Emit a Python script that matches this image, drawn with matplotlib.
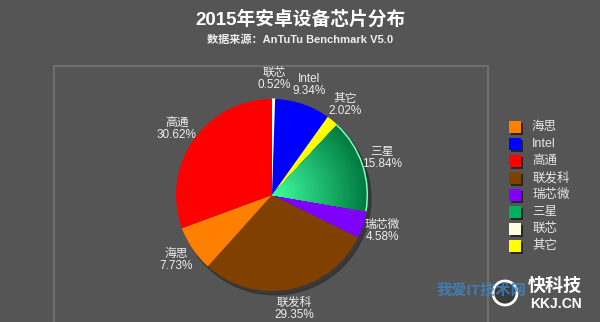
import numpy as np
import matplotlib.pyplot as plt
from matplotlib.patches import Rectangle, Circle, Wedge, Ellipse
from matplotlib.colors import to_rgb

plt.rcParams['font.family'] = ['Liberation Sans', 'Noto Sans CJK SC', 'DejaVu Sans']

# pie order: clockwise from 12 o'clock
chips = ['联芯', 'Intel', '其它', '三星', '瑞芯微', '联发科', '海思', '高通']
shares = [0.52, 9.34, 2.02, 15.84, 4.58, 29.35, 7.73, 30.62]
colors = ['#fffde0', '#0000ff', '#ffff00', '#00b060', '#8000ff', '#804000', '#ff8000', '#ff0000']
legend_order = ['海思', 'Intel', '高通', '联发科', '瑞芯微', '三星', '联芯', '其它']

BG = '#555555'
W, H = 600, 322
CX, CY, R = 272, 195, 96  # pie centre / radius in pixels


def fx(px):
    return px / W


def fy(py):
    return 1 - py / H


fig = plt.figure(figsize=(6, 3.22), dpi=100, facecolor=BG)

# plot-area frame (behind the pie axes)
fig.add_artist(Rectangle((fx(54), -0.05), fx(488 - 54), fy(66) + 0.05,
                         transform=fig.transFigure, fill=False,
                         ec='#6e6e6e', lw=1.5, zorder=-1))

# square axes centred on the pie
half = 150
ax = fig.add_axes([fx(CX - half), fy(CY + half), 2 * half / W, 2 * half / H])
ax.set_facecolor('none')

ax.add_patch(Circle((0.03, -0.04), 1.0, color='#2e2e2e', alpha=0.7, zorder=0))

labels = [f'{c}\n{s:.2f}%' for c, s in zip(chips, shares)]
wedges, texts = ax.pie(shares, colors=colors, startangle=90, counterclock=False,
                       labels=labels, labeldistance=1.21,
                       wedgeprops=dict(lw=0),
                       textprops=dict(color='#eeeeee', fontsize=8.5, linespacing=1.0))
for t in texts:
    t.set_ha('center')
    t.set_va('center')

wedges[0].set_edgecolor('white')
wedges[0].set_linewidth(0.8)

# radial gradient on the Samsung slice
w = wedges[chips.index('三星')]
dark, bright = np.array(to_rgb('#007a40')), np.array(to_rgb('#40ffa0'))
n = 40
for k in range(n):
    f = k / n
    ax.add_patch(Wedge((0, 0), 1 - 0.98 * f, w.theta1, w.theta2,
                       color=dark * (1 - f) + bright * f, lw=0, zorder=1.5))
ax.add_patch(Wedge((0, 0), 1.0, w.theta1, w.theta2, width=0.015,
                   color='#8affc8', lw=0, zorder=1.6))

lim = half / R
ax.set_xlim(-lim, lim)
ax.set_ylim(-lim, lim)
ax.axis('off')

# legend
color_of = dict(zip(chips, colors))
for i, name in enumerate(legend_order):
    y = 127 + 17 * i
    fig.add_artist(Rectangle((fx(511), fy(y + 8)), fx(12), 12 / H,
                             transform=fig.transFigure, color='#262626', lw=0))
    fig.add_artist(Rectangle((fx(509), fy(y + 6)), fx(12), 12 / H,
                             transform=fig.transFigure, color=color_of[name], lw=0))
    fig.text(fx(532), fy(y), name, color='#e6e6e6', fontsize=9, ha='left', va='center')

fig.text(0.5, fy(20), '2015年安卓设备芯片分布', color='white', fontsize=13.5,
         fontweight='bold', ha='center', va='center')
fig.text(0.5, fy(40), '数据来源：AnTuTu Benchmark V5.0', color='#eeeeee', fontsize=8,
         fontweight='bold', ha='center', va='center')

# watermark
fig.text(fx(437), fy(291), '我爱IT技术网', color='#3d86c6', alpha=0.8, fontsize=11,
         fontweight='bold', ha='left', va='center')
fig.add_artist(Ellipse((fx(505), fy(293)), 24 / W, 24 / H, transform=fig.transFigure,
                       fc='#3a3a3a', ec='white', lw=2))
fig.text(fx(528), fy(286), '快科技', color='white', fontsize=13,
         fontweight='bold', ha='left', va='center')
fig.text(fx(530), fy(304), 'KKJ.CN', color='white', fontsize=10,
         fontweight='bold', ha='left', va='center')

fig.savefig('out.png', dpi=100, facecolor=BG)
